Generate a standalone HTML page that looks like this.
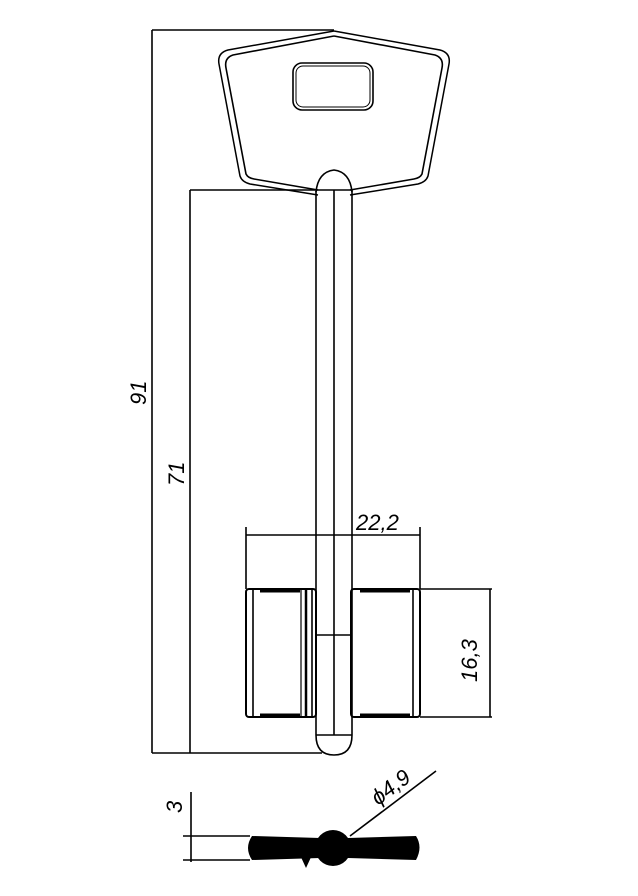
<!DOCTYPE html>
<html><head><style>
html,body{margin:0;padding:0;background:#fff}
svg{display:block}
text{font-family:"Liberation Sans",sans-serif;font-style:italic;fill:#000}
</style></head><body>
<svg width="638" height="896" viewBox="0 0 638 896" xmlns="http://www.w3.org/2000/svg">
<g stroke="#000" stroke-width="1.6" fill="none">
<!-- dimension lines -->
<line x1="152" y1="30" x2="152" y2="753"/>
<line x1="152" y1="30" x2="334" y2="30"/>
<line x1="152" y1="753" x2="322" y2="753"/>
<line x1="190" y1="190" x2="190" y2="753"/>
<line x1="190" y1="190" x2="315" y2="190"/>
<!-- head -->
<path d="M334,31 L228,50 Q217,53 219,64 L240,176 Q242,182 250,184 L318,195" stroke-width="1.5"/>
<path d="M334,31 L440,50 Q451,53 449,64 L428,176 Q426,182 418,184 L350,195" stroke-width="1.5"/>
<path d="M334,36 L233,55 Q224,58 226,68 L246,174 Q248,178 254,179 L318,190"/>
<path d="M334,36 L435,55 Q444,58 442,68 L422,174 Q420,178 414,179 L350,190"/>
<rect x="293" y="63" width="80" height="47" rx="9" stroke-width="1.6"/>
<rect x="296" y="66" width="74" height="41" rx="7" stroke-width="1"/>
<!-- stem -->
<path d="M316,192 Q318,172 334,170 Q350,172 352,192"/>
<line x1="316" y1="190" x2="316" y2="735"/>
<line x1="352" y1="190" x2="352" y2="735"/>
<line x1="334" y1="190" x2="334" y2="735"/>
<line x1="316" y1="190" x2="352" y2="190"/>
<line x1="316" y1="635" x2="352" y2="635"/>
<line x1="316" y1="735" x2="352" y2="735"/>
<path d="M316,735 Q316,755 334,755 Q352,755 352,735"/>
<!-- blocks -->
<rect x="246" y="589" width="70" height="128" rx="3" stroke-width="2"/>
<line x1="253" y1="589" x2="253" y2="717"/>
<line x1="301" y1="589" x2="301" y2="717" stroke-width="1.2"/>
<line x1="306" y1="589" x2="306" y2="717" stroke-width="2.5"/>
<line x1="312" y1="589" x2="312" y2="717"/>
<rect x="351" y="589" width="69" height="128" rx="3" stroke-width="2"/>
<line x1="413" y1="589" x2="413" y2="717"/>
<line x1="260" y1="591" x2="300" y2="591" stroke-width="3"/>
<line x1="360" y1="591" x2="410" y2="591" stroke-width="3"/>
<line x1="260" y1="715" x2="300" y2="715" stroke-width="3"/>
<line x1="360" y1="715" x2="410" y2="715" stroke-width="3"/>
<!-- 22,2 -->
<line x1="246" y1="527" x2="246" y2="589"/>
<line x1="420" y1="527" x2="420" y2="589"/>
<line x1="246" y1="535" x2="420" y2="535"/>
<!-- 16,3 -->
<line x1="420" y1="589" x2="492" y2="589"/>
<line x1="420" y1="717" x2="492" y2="717"/>
<line x1="490" y1="589" x2="490" y2="717"/>
<!-- bottom section -->
<line x1="191" y1="792" x2="191" y2="862"/>
<line x1="183" y1="836" x2="250" y2="836"/>
<line x1="183" y1="860" x2="250" y2="860"/>
<line x1="350" y1="836" x2="436" y2="771"/>
</g>
<g fill="#000">
<path d="M252,836 L320,838 L348,838 L416,836 Q423,847 416,860 L348,858 L320,858 L252,860 Q244,848 252,836Z"/>
<circle cx="333" cy="848" r="18"/>
<path d="M300,855 L306,868 L312,855Z"/>
</g>
<text x="0" y="0" font-size="22" transform="translate(146,405) rotate(-90)">91</text>
<text x="0" y="0" font-size="22" transform="translate(184,486) rotate(-90)">71</text>
<text x="356" y="530" font-size="22">22,2</text>
<text x="0" y="0" font-size="22" transform="translate(477,682) rotate(-90)">16,3</text>
<text x="0" y="0" font-size="22" transform="translate(182,813) rotate(-90)">3</text>
<text x="0" y="0" font-size="22" transform="translate(378,806) rotate(-37)">ϕ4,9</text>
</svg>
</body></html>
